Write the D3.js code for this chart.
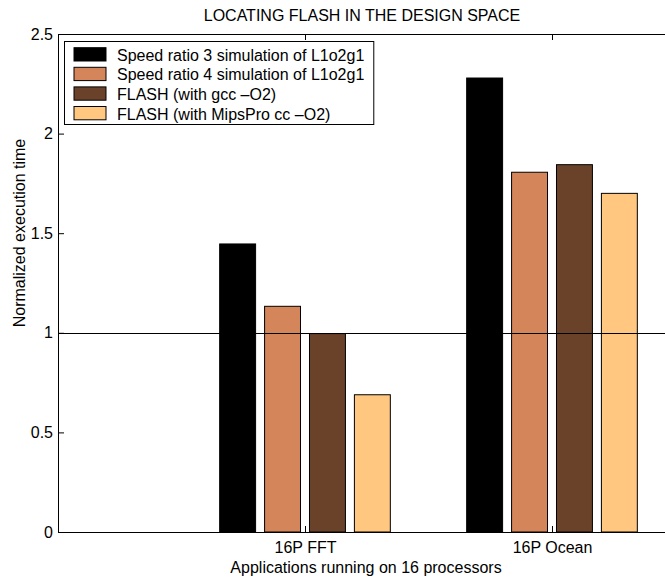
<!DOCTYPE html>
<html><head><meta charset="utf-8">
<script src="https://cdn.jsdelivr.net/npm/d3@7"></script>
<style>
body{margin:0;background:#fff}
svg text{font-family:"Liberation Sans",Arial,Helvetica,sans-serif;fill:#000}
</style>
</head><body>
<svg id="chart" width="665" height="578"></svg>
<script>
// ---- data ----
const categories = ["16P FFT", "16P Ocean"];
const seriesNames = [
  "Speed ratio 3 simulation of L1o2g1",
  "Speed ratio 4 simulation of L1o2g1",
  "FLASH (with gcc \u2013O2)",
  "FLASH (with MipsPro cc \u2013O2)"
];
const speedRatio3 = [1.446, 2.279];
const speedRatio4 = [1.133, 1.806];
const flashGcc    = [0.996, 1.844];
const flashMips   = [0.689, 1.700];
const seriesColors = ["#000000", "#d4855a", "#6a422a", "#ffc77f"];
const yTicks = [0, 0.5, 1, 1.5, 2, 2.5];
const yTickLabels = ["0", "0.5", "1", "1.5", "2", "2.5"];
const titleText = "LOCATING FLASH IN THE DESIGN SPACE";
const xLabelText = "Applications running on 16 processors";
const yLabelText = "Normalized execution time";
const refLineValue = 1;

const allSeries = [speedRatio3, speedRatio4, flashGcc, flashMips];

// ---- layout ----
const mLeft = 58, mRight = 675.5, mTop = 34, mBottom = 532;
const fs = 16;
const svg = d3.select("#chart");

const x = d3.scaleLinear().domain([0, 2.5]).range([mLeft, mRight]);
const y = d3.scaleLinear().domain([0, 2.5]).range([mBottom, mTop]);

const nS = allSeries.length;
const groupWidth = Math.min(0.8, nS / (nS + 1.5));
const step = groupWidth / nS;
const barW = x(0.8 * step) - x(0);

// bars
allSeries.forEach((vals, j) => {
  svg.append("g").selectAll("rect").data(vals).join("rect")
    .attr("x", (d, i) => x(i + 1 + (j - (nS - 1) / 2) * step) - barW / 2)
    .attr("width", barW)
    .attr("y", d => y(d))
    .attr("height", d => y(0) - y(d))
    .attr("fill", seriesColors[j])
    .attr("stroke", "#000")
    .attr("stroke-width", 1);
});

// reference line at 1
svg.append("line")
  .attr("x1", x(0)).attr("x2", x(2.5))
  .attr("y1", Math.round(y(refLineValue)) + 0.5).attr("y2", Math.round(y(refLineValue)) + 0.5)
  .attr("stroke", "#000").attr("stroke-width", 1);

// axes
const yAxis = d3.axisLeft(y).tickValues(yTicks)
  .tickFormat((d, i) => yTickLabels[i]).tickSize(-6).tickSizeOuter(0).tickPadding(5);
const gy = svg.append("g").attr("transform", `translate(${mLeft},0)`).call(yAxis);
gy.select(".domain").remove();
gy.selectAll("text").style("font-size", fs + "px").attr("font-family", null);
gy.selectAll("line").attr("stroke", "#000");

const xAxis = d3.axisBottom(x).tickValues([1, 2])
  .tickFormat(d => categories[d - 1]).tickSize(-6).tickSizeOuter(0).tickPadding(10);
const gx = svg.append("g").attr("transform", `translate(0,${mBottom})`).call(xAxis);
gx.select(".domain").remove();
gx.selectAll("text").style("font-size", fs + "px").attr("font-family", null);
gx.selectAll("line").attr("stroke", "#000");

const xAxisTop = d3.axisTop(x).tickValues([1, 2]).tickFormat("").tickSize(-6).tickSizeOuter(0);
const gxt = svg.append("g").attr("transform", `translate(0,${mTop})`).call(xAxisTop);
gxt.select(".domain").remove();
gxt.selectAll("line").attr("stroke", "#000");

// box
svg.append("rect")
  .attr("x", mLeft + 0.5).attr("y", mTop + 0.5)
  .attr("width", mRight - mLeft).attr("height", mBottom - mTop)
  .attr("fill", "none").attr("stroke", "#000").attr("stroke-width", 1);

// legend
const lgX = 64, lgY = 41, lgRowH = 19.6;
const lg = svg.append("g");
const lgBox = lg.append("rect")
  .attr("x", lgX + 0.5).attr("y", lgY + 0.5)
  .attr("height", 83)
  .attr("fill", "#fff").attr("stroke", "#000").attr("stroke-width", 1);
let maxW = 0;
seriesNames.forEach((name, j) => {
  const sy = lgY + 6.7 + j * lgRowH;
  lg.append("rect").attr("x", 74).attr("y", sy).attr("width", 32).attr("height", 13.3)
    .attr("fill", seriesColors[j]).attr("stroke", "#000").attr("stroke-width", 1);
  const t = lg.append("text").attr("x", 117).attr("y", sy + 13)
    .style("font-size", fs + "px").text(name);
  maxW = Math.max(maxW, t.node().getComputedTextLength());
});
lgBox.attr("width", 117 + maxW + 9 - lgX);

// title and labels
svg.append("text").attr("x", 362).attr("y", 21).attr("text-anchor", "middle")
  .style("font-size", fs + "px").text(titleText);
svg.append("text").attr("x", 366).attr("y", 573).attr("text-anchor", "middle")
  .style("font-size", fs + "px").text(xLabelText);
svg.append("text").attr("transform", "translate(25,233) rotate(-90)")
  .attr("text-anchor", "middle").style("font-size", fs + "px").text(yLabelText);
</script>
</body></html>
